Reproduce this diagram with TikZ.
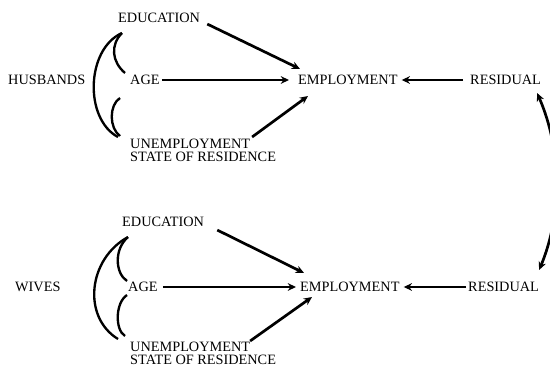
\documentclass[tikz,border=0pt]{standalone}
\usepackage{fontspec}
\setmainfont{Liberation Serif}
\usetikzlibrary{arrows.meta,calc}
\tikzset{
	lbl/.style={inner sep=0pt, anchor=west, font=\fontsize{12.2}{11.2}\selectfont},
	effect/.style={line width=2.3pt, -{Stealth[length=7pt,width=6.5pt]}},
	twoway/.style={line width=2.3pt, {Stealth[length=7pt,width=6.5pt]}-{Stealth[length=7pt,width=6.5pt]}},
	corr/.style={line width=2pt},
}

\begin{document}
\begin{tikzpicture}[x=0.03cm,y=-0.03cm]
		%%%%% START %%%%%
		\useasboundingbox (0,0) rectangle (550,367);
		\clip (0,0) rectangle (550,367);
		
		% husbands
		\node[lbl] (hus) at (8,80) {HUSBANDS};
		\node[lbl] (edu1) at (118,18) {EDUCATION};
		\node[lbl] (age1) at (130,80) {AGE};
		\node[lbl, align=left, anchor=north west] (une1) at (130,139) {UNEMPLOYMENT\\STATE OF RESIDENCE};
		\node[lbl] (emp1) at (298,80) {EMPLOYMENT};
		\node[lbl] (res1) at (470,80) {RESIDUAL};
		
		\draw[effect] ($(edu1.south east)+(7,1)$) -- ($(emp1.north west)+(2,-6)$);
		\draw[effect] ($(age1.east)+(2,0)$) -- ($(emp1.west)+(-9,0)$);
		\draw[effect] ($(une1.north)+(49,-2)$) -- ($(emp1.south west)+(10,11)$);
		\draw[effect] ($(res1.west)+(-7,0)$) -- ($(emp1.east)+(4,0)$);
		
		\draw[corr] ($(edu1.south west)+(4,10)$) .. controls +(-36,16) and +(-34,-18) .. ($(une1.north west)+(-12,-2)$);
		\draw[corr] ($(edu1.south west)+(4,10)$) .. controls +(-12,12) and +(-13,-11) .. ($(age1.west)+(-5,-7)$);
		\draw[corr] ($(age1.west)+(-10,18)$) .. controls +(-11,7) and +(-11,-8) .. ($(une1.north west)+(-10,-3)$);
		
		% wives
		\node[lbl] (wiv) at (15,287) {WIVES};
		\node[lbl] (edu2) at (122,222) {EDUCATION};
		\node[lbl] (age2) at (128,287) {AGE};
		\node[lbl, align=left, anchor=north west] (une2) at (130,342) {UNEMPLOYMENT\\STATE OF RESIDENCE};
		\node[lbl] (emp2) at (300,287) {EMPLOYMENT};
		\node[lbl] (res2) at (468,287) {RESIDUAL};
		
		\draw[effect] ($(edu2.south east)+(13,3)$) -- ($(emp2.north west)+(4,-9)$);
		\draw[effect] ($(age2.east)+(5,0)$) -- ($(emp2.west)+(-4,0)$);
		\draw[effect] ($(une2.north)+(47,-1)$) -- ($(emp2.south west)+(12,5)$);
		\draw[effect] ($(res2.west)+(-2,0)$) -- ($(emp2.east)+(4,0)$);
		
		\draw[corr] ($(edu2.south west)+(6,10)$) .. controls +(-40,22) and +(-36,-22) .. ($(une2.north west)+(-12,-3)$);
		\draw[corr] ($(edu2.south west)+(6,10)$) .. controls +(-14,12) and +(-12,-8) .. ($(age2.west)+(-1,-6)$);
		\draw[corr] ($(age2.west)+(-1,8)$) .. controls +(-12,8) and +(-10,-6) .. ($(une2.north west)+(-5,-6)$);
		
		% residuals
		\draw[twoway] ($(res1.south east)+(-4,8)$) .. controls (562,150) and (562,215) .. ($(res2.north east)+(0,-12)$);
		
		%%%%% END %%%%%
	\end{tikzpicture}
\end{document}
